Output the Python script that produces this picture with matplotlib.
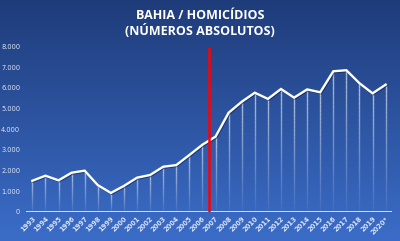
import numpy as np
import matplotlib
matplotlib.use("Agg")
import matplotlib.pyplot as plt
from matplotlib.collections import LineCollection
import matplotlib.patheffects as pe

# homicides in Bahia, absolute numbers
years = ["1993", "1994", "1995", "1996", "1997", "1998", "1999", "2000",
         "2001", "2002", "2003", "2004", "2005", "2006", "2007", "2008",
         "2009", "2010", "2011", "2012", "2013", "2014", "2015", "2016",
         "2017", "2018", "2019", "2020*"]
homicides = [1500, 1745, 1520, 1890, 1990, 1290, 910, 1250,
             1650, 1780, 2180, 2260, 2750, 3250, 3640, 4800,
             5330, 5770, 5470, 5950, 5530, 5930, 5790, 6810,
             6860, 6230, 5740, 6160]
marker_pos = 13.5   # red line between 2006 and 2007
yticks = [0, 1000, 2000, 3000, 4000, 5000, 6000, 7000, 8000]

fig = plt.figure(figsize=(4, 2.41), dpi=100)

# gradient background
bg = fig.add_axes([0, 0, 1, 1])
grad = np.linspace(0, 1, 256).reshape(-1, 1)
top = np.array([0x1f, 0x3c, 0x7a]) / 255
bot = np.array([0x3b, 0x6d, 0xc8]) / 255
img = top + (bot - top) * grad[:, :, None]
bg.imshow(img, aspect="auto", extent=[0, 1, 0, 1])
bg.axis("off")

ax = fig.add_axes([0.0645, 0.1216, 0.916, 0.6845])
ax.patch.set_alpha(0)
x = np.arange(len(years))

# fading drop lines
segs, cols = [], []
n = 30
for xi, v in zip(x, homicides):
    ys = np.linspace(0, v, n + 1)
    for k in range(n):
        segs.append([(xi, ys[k]), (xi, ys[k + 1])])
        cols.append((1, 1, 1, 0.05 + 0.6 * (k / n)))
ax.add_collection(LineCollection(segs, colors=cols, linewidths=1.0))

# baseline
ax.axhline(-60, color="#1f4fa8", lw=1.2, zorder=2)
ax.axhline(0, color="white", lw=1.1, zorder=3)

ax.plot(x, homicides, color="white", lw=1.7, zorder=4, solid_joinstyle="miter",
        path_effects=[pe.SimpleLineShadow(offset=(0.6, -0.6), shadow_color="#0a1f4a", alpha=0.6),
                      pe.Normal()])

ax.vlines(marker_pos, 0, 8000, color="#ff0000", lw=1.8, zorder=5)

ax.set_xlim(-0.5, len(years) - 0.5)
ax.set_ylim(0, 8000)
ax.set_yticks(yticks)
ax.set_yticklabels([f"{t:,}".replace(",", ".") for t in yticks])
ax.set_xticks(x)
ax.set_xticklabels(years, rotation=45, ha="right", rotation_mode="anchor",
                   fontweight="bold")
ax.tick_params(axis="both", length=0, colors="#dce4f5", labelsize=4.8)
ax.tick_params(axis="x", pad=3)
ax.tick_params(axis="y", pad=4)
for s in ax.spines.values():
    s.set_visible(False)

fig.text(0.5, 0.935, "BAHIA / HOMICÍDIOS", ha="center", va="center",
         color="white", fontsize=9, fontweight="bold", family="Open Sans")
fig.text(0.5, 0.873, "(NÚMEROS ABSOLUTOS)", ha="center", va="center",
         color="white", fontsize=9, fontweight="bold", family="Open Sans")

fig.savefig("out.png", dpi=100)
